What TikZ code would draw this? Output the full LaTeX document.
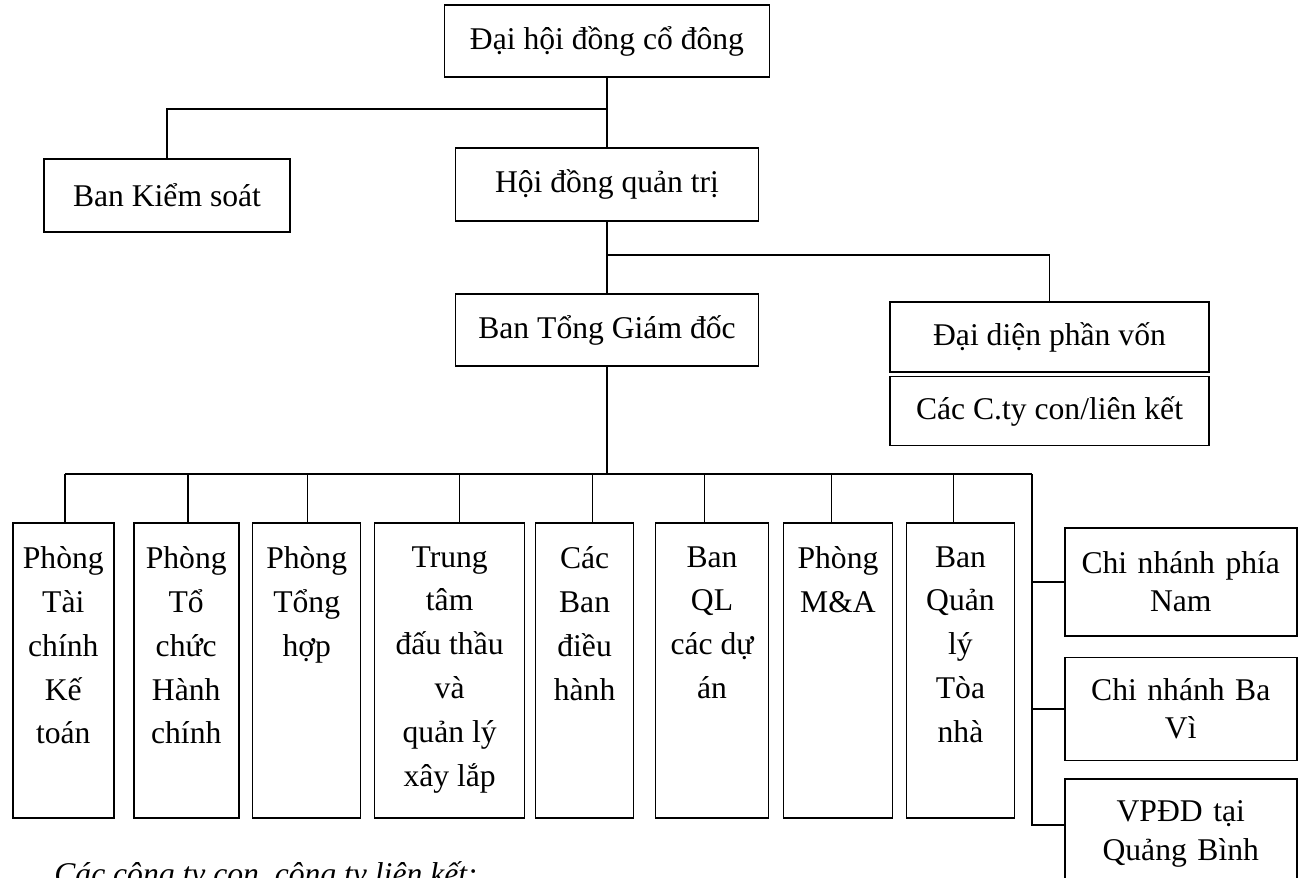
\documentclass[tikz,border=0pt]{standalone}
\usepackage{fontspec}
\setmainfont{Liberation Serif}
\usetikzlibrary{positioning}
\tikzset{
    base/.style = {rectangle, draw=black, line width=0.9pt, font=\fontsize{18}{22}\selectfont},
    unit/.style = {base, minimum height=1.44cm},
    dept/.style = {base, inner xsep=0pt, inner ysep=0.47cm, font=\fontsize{18}{25}\selectfont},
    branch/.style = {base, text width=4.2cm, align=center, minimum width=4.64cm},
    link/.style = {line width=0.9pt}
}
\newcommand{\colbox}[2]{\parbox[t][4.96cm][t]{#1}{\centering #2}}

\begin{document}
\begin{tikzpicture}[x=0.02cm, y=-0.02cm]
        \useasboundingbox (0,0) rectangle (1303,877);

        % Governing bodies
        \node (dhdcd) [unit, minimum width=6.5cm] at (607,41) {Đại hội đồng cổ đông};
        \node (bks) [unit, minimum width=4.92cm, minimum height=1.46cm] at (167,195.5) {Ban Kiểm soát};
        \node (hdqt) [unit, minimum width=6.06cm, minimum height=1.46cm] at (607,184.5) {Hội đồng quản trị};
        \node (btgd) [unit, minimum width=6.06cm] at (607,330) {Ban Tổng Giám đốc};

        % Capital representatives
        \node (ddpv) [unit, minimum width=6.38cm, minimum height=1.4cm] at (1049.5,337) {Đại diện phần vốn};
        \node (ctycon) [unit, minimum width=6.38cm, minimum height=1.38cm, below=0.06cm of ddpv] {Các C.ty con/liên kết};

        % Departments
        \node (ptckt) [dept, anchor=north west] at (12,522) {\colbox{2.02cm}{Phòng\\Tài\\chính\\Kế\\toán}};
        \node (ptchc) [dept, right=0.368cm of ptckt] {\colbox{2.1cm}{Phòng\\Tổ\\chức\\Hành\\chính}};
        \node (pth) [dept, right=0.248cm of ptchc] {\colbox{2.16cm}{Phòng\\Tổng\\hợp}};
        \node (ttdt) [dept, right=0.248cm of pth] {\colbox{3.0cm}{Trung\\tâm\\đấu thầu\\và\\quản lý\\xây lắp}};
        \node (cbdh) [dept, right=0.188cm of ttdt] {\colbox{1.96cm}{Các\\Ban\\điều\\hành}};
        \node (bqlda) [dept, right=0.408cm of cbdh] {\colbox{2.26cm}{Ban\\QL\\các dự\\án}};
        \node (pma) [dept, right=0.268cm of bqlda] {\colbox{2.18cm}{Phòng\\M\&A}};
        \node (bqltn) [dept, right=0.248cm of pma] {\colbox{2.16cm}{Ban\\Quản\\lý\\Tòa\\nhà}};

        % Branches
        \node (cnpn) [branch, minimum height=2.16cm, anchor=north west] at (1064,527) {Chi nhánh phía\\Nam};
        \node (cnbv) [branch, minimum height=2.06cm, below=0.4cm of cnpn] {Chi nhánh Ba\\Vì};
        \node (vpdd) [branch, minimum height=2.2cm, below=0.34cm of cnbv] {VPĐD tại\\Quảng Bình};

        \node (note) [anchor=base west, inner sep=0pt, font=\fontsize{18}{22}\selectfont\itshape] at (54,884) {Các công ty con, công ty liên kết:};

        % Junctions
        \coordinate (split1) at (607,109);
        \coordinate (split2) at (607,255);
        \coordinate (bus) at (607,474);
        \coordinate (rail) at (1032,474);

        % Connectors
        \draw [link] (dhdcd) -- (hdqt);
        \draw [link] (bks.north) |- (split1);
        \draw [link] (hdqt) -- (btgd);
        \draw [link] (split2) -| (ddpv.north);
        \draw [link] (btgd.south) -- (bus);
        \draw [link] ([xshift=0.03cm]ptckt.north |- bus) -- (rail);
        \foreach \n/\dx in {ptckt/1.5, ptchc/1.5, pth/1, ttdt/10, cbdh/8, bqlda/-7.5, pma/-6.5, bqltn/-7}
            \draw [link] ([xshift=\dx*0.02cm]\n.north) -- ([xshift=\dx*0.02cm]\n.north |- bus);
        \draw [link] (rail) |- ([yshift=0.18cm]vpdd.west);
        \draw [link] (cnpn.west) -- (cnpn.west -| rail);
        \draw [link] (cnbv.west) -- (cnbv.west -| rail);
    \end{tikzpicture}
\end{document}
